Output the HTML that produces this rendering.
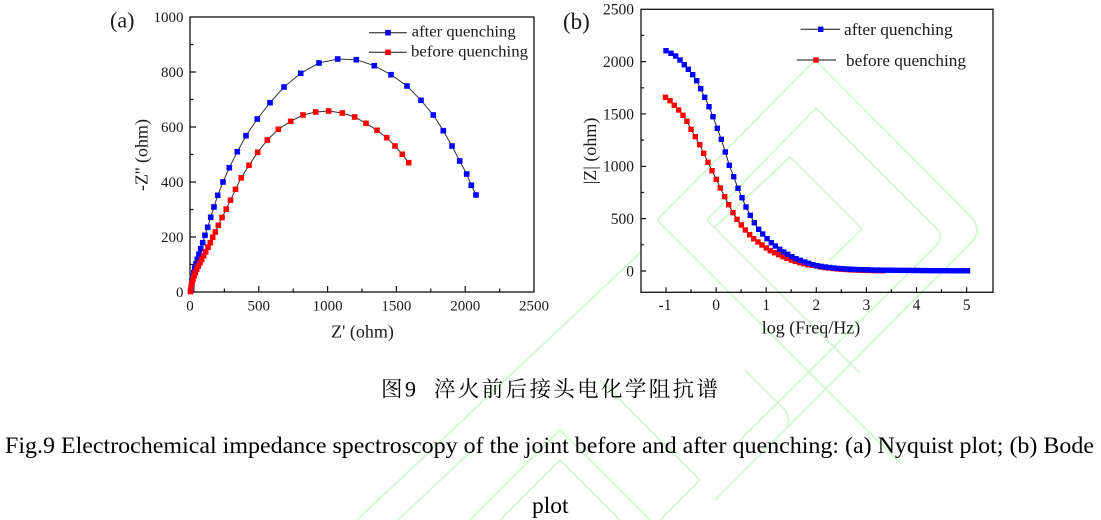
<!DOCTYPE html>
<html>
<head>
<meta charset="utf-8">
<style>
  html,body{margin:0;padding:0;background:#fff;}
  svg{display:block;}
  .t{font-family:"Liberation Serif",serif;fill:#1a1a1a;}
  .c{font-family:"Liberation Serif","Noto Serif CJK SC",serif;fill:#000;}
</style>
</head>
<body>
<svg width="1101" height="520" viewBox="0 0 1101 520" xmlns="http://www.w3.org/2000/svg">
<defs>
  <rect id="mb" x="-2.8" y="-2.8" width="5.6" height="5.6" fill="#0000ff"/>
  <rect id="mr" x="-2.8" y="-2.8" width="5.6" height="5.6" fill="#ff0000"/>
  <rect id="bb" x="-2.7" y="-2.7" width="5.4" height="5.4" fill="#0000ff"/>
  <rect id="br" x="-2.7" y="-2.7" width="5.4" height="5.4" fill="#ff0000"/>
</defs>
<rect width="1101" height="520" fill="#fff"/>

<!-- watermark (approximate) -->
<g fill="none" stroke="#d2f8d2" stroke-width="1.8" stroke-linejoin="round">
  <path d="M357,520 L640,253"/>
  <path d="M398,520 L470,452"/>
  <path d="M657,220 L815,60 L972,218 Q982,230 972,242 L715,500"/>
  <path d="M657,220 L900,463"/>
  <path d="M707,220 L816,108 L938,230 Q944,238 934,248 L740,440"/>
  <path d="M707,220 L860,373"/>
  <path d="M715,227 L790,157 L862,229 L830,260"/>
  <path d="M470,520 L560,430 L650,520"/>
  <path d="M500,520 L560,460 L620,520"/>
  <path d="M745,370 L785,410 Q792,420 785,430 L745,470"/>
  <path d="M600,380 L700,480 L660,520"/>
</g>

<!-- ===== (a) Nyquist ===== -->
<text class="t" x="110" y="27.7" font-size="22">(a)</text>
<path d="M258.8,292v-6M327.6,292v-6M396.4,292v-6M465.2,292v-6M224.4,292v-3.5M293.2,292v-3.5M362,292v-3.5M430.8,292v-3.5M499.6,292v-3.5M190,237h6M190,182h6M190,127h6M190,72h6M190,264.5h3.5M190,209.5h3.5M190,154.5h3.5M190,99.5h3.5M190,44.5h3.5" stroke="#111" stroke-width="1.2" fill="none"/>
<rect x="190" y="17" width="344" height="275" fill="none" stroke="#111" stroke-width="1.3"/>
<g class="t" font-size="15" text-anchor="middle">
  <text x="190" y="310.5">0</text>
  <text x="258.8" y="310.5">500</text>
  <text x="327.6" y="310.5">1000</text>
  <text x="396.4" y="310.5">1500</text>
  <text x="465.2" y="310.5">2000</text>
  <text x="534" y="310.5">2500</text>
</g>
<g class="t" font-size="15" text-anchor="end">
  <text x="183.5" y="297">0</text>
  <text x="183.5" y="242">200</text>
  <text x="183.5" y="187">400</text>
  <text x="183.5" y="132">600</text>
  <text x="183.5" y="77">800</text>
  <text x="183.5" y="22">1000</text>
</g>
<text class="t" x="362.5" y="337.5" font-size="18" text-anchor="middle">Z' (ohm)</text>
<text class="t" transform="translate(147.5,155) rotate(-90)" font-size="18" text-anchor="middle">-Z'' (ohm)</text>

<polyline fill="none" stroke="#333" stroke-width="1" points="190.6,291.3 191.7,289.3 191.7,285 192,280.7 192.7,276.7 193.7,272.7 194.7,268.3 196,264 197.3,259.3 199,254.3 200.7,248.7 202.7,242.7 205,235.3 207.7,227.3 210.7,217.3 214,207 217.7,195.3 223,182 229.3,167.7 237.3,151.7 246,135.7 257.3,119 270,102.7 284,87 300.7,73.3 319,63 337.7,59 356.3,59.7 374.3,65.7 391,74.7 407,86 421,100.3 433.3,115 443.3,130.7 452,146 459.7,161 466.7,174 471.3,185.3 476,195"/>
<g>
<use href="#mb" x="190.6" y="291.3"/><use href="#mb" x="191.7" y="289.3"/><use href="#mb" x="191.7" y="285"/><use href="#mb" x="192" y="280.7"/><use href="#mb" x="192.7" y="276.7"/><use href="#mb" x="193.7" y="272.7"/><use href="#mb" x="194.7" y="268.3"/><use href="#mb" x="196" y="264"/><use href="#mb" x="197.3" y="259.3"/><use href="#mb" x="199" y="254.3"/><use href="#mb" x="200.7" y="248.7"/><use href="#mb" x="202.7" y="242.7"/><use href="#mb" x="205" y="235.3"/><use href="#mb" x="207.7" y="227.3"/><use href="#mb" x="210.7" y="217.3"/><use href="#mb" x="214" y="207"/><use href="#mb" x="217.7" y="195.3"/><use href="#mb" x="223" y="182"/><use href="#mb" x="229.3" y="167.7"/><use href="#mb" x="237.3" y="151.7"/><use href="#mb" x="246" y="135.7"/><use href="#mb" x="257.3" y="119"/><use href="#mb" x="270" y="102.7"/><use href="#mb" x="284" y="87"/><use href="#mb" x="300.7" y="73.3"/><use href="#mb" x="319" y="63"/><use href="#mb" x="337.7" y="59"/><use href="#mb" x="374.3" y="65.7"/><use href="#mb" x="391" y="74.7"/><use href="#mb" x="407" y="86"/><use href="#mb" x="421" y="100.3"/><use href="#mb" x="433.3" y="115"/><use href="#mb" x="443.3" y="130.7"/><use href="#mb" x="452" y="146"/><use href="#mb" x="459.7" y="161"/><use href="#mb" x="466.7" y="174"/><use href="#mb" x="471.3" y="185.3"/><use href="#mb" x="476" y="195"/><use href="#mb" x="356.3" y="59.7"/>
</g>
<polyline fill="none" stroke="#333" stroke-width="1" points="190.5,291.5 191,289 191.3,286 192,282.7 193,279.3 194,276 195.3,272.7 196.7,269.3 198.3,266 200,262.7 201.7,259.3 203.7,255.7 205.7,251.7 208,247.3 210.3,242.7 212.7,237.3 215.3,232 218.3,225.3 222,217.5 226.2,209.2 230.5,200.2 235.5,189.3 241.2,177.8 249,165.3 257.7,152.3 267.3,140 278.3,129.3 290.7,121.3 303,115 315.7,112 328.7,111 342.3,113 354.7,117 366,123.3 377,130.3 386.7,137.7 395,146 402.3,154.3 408.7,162.7"/>
<g>
<use href="#mr" x="190.5" y="291.5"/><use href="#mr" x="191" y="289"/><use href="#mr" x="191.3" y="286"/><use href="#mr" x="192" y="282.7"/><use href="#mr" x="193" y="279.3"/><use href="#mr" x="194" y="276"/><use href="#mr" x="195.3" y="272.7"/><use href="#mr" x="196.7" y="269.3"/><use href="#mr" x="198.3" y="266"/><use href="#mr" x="200" y="262.7"/><use href="#mr" x="201.7" y="259.3"/><use href="#mr" x="203.7" y="255.7"/><use href="#mr" x="205.7" y="251.7"/><use href="#mr" x="208" y="247.3"/><use href="#mr" x="210.3" y="242.7"/><use href="#mr" x="212.7" y="237.3"/><use href="#mr" x="215.3" y="232"/><use href="#mr" x="218.3" y="225.3"/><use href="#mr" x="222" y="217.5"/><use href="#mr" x="226.2" y="209.2"/><use href="#mr" x="230.5" y="200.2"/><use href="#mr" x="235.5" y="189.3"/><use href="#mr" x="241.2" y="177.8"/><use href="#mr" x="249" y="165.3"/><use href="#mr" x="257.7" y="152.3"/><use href="#mr" x="267.3" y="140"/><use href="#mr" x="278.3" y="129.3"/><use href="#mr" x="290.7" y="121.3"/><use href="#mr" x="303" y="115"/><use href="#mr" x="315.7" y="112"/><use href="#mr" x="328.7" y="111"/><use href="#mr" x="342.3" y="113"/><use href="#mr" x="354.7" y="117"/><use href="#mr" x="366" y="123.3"/><use href="#mr" x="377" y="130.3"/><use href="#mr" x="386.7" y="137.7"/><use href="#mr" x="395" y="146"/><use href="#mr" x="402.3" y="154.3"/><use href="#mr" x="408.7" y="162.7"/>
</g>
<path d="M369,32.7H406.7M369,52.3H406.7" stroke="#111" stroke-width="1"/>
<use href="#mb" x="388" y="32.7"/>
<use href="#mr" x="388" y="52.3"/>
<text class="t" x="411.7" y="36.7" font-size="16" textLength="104" lengthAdjust="spacingAndGlyphs">after quenching</text>
<text class="t" x="411" y="56.5" font-size="16" textLength="117" lengthAdjust="spacingAndGlyphs">before quenching</text>

<!-- ===== (b) Bode ===== -->
<text class="t" x="563" y="29" font-size="23">(b)</text>
<path d="M666,292.3v-5M716.1,292.3v-5M766.2,292.3v-5M816.3,292.3v-5M866.4,292.3v-5M916.5,292.3v-5M966.6,292.3v-5M691,292.3v-3M741.1,292.3v-3M791.2,292.3v-3M841.3,292.3v-3M891.4,292.3v-3M941.5,292.3v-3M641,271h5M641,218.65h5M641,166.3h5M641,113.95h5M641,61.6h5M641,244.8h3M641,192.5h3M641,140.1h3M641,87.8h3M641,35.4h3" stroke="#111" stroke-width="1.2" fill="none"/>
<rect x="641" y="9.3" width="352" height="283" fill="none" stroke="#111" stroke-width="1.3"/>
<g class="t" font-size="15.5" text-anchor="end">
  <text x="634" y="276.3">0</text>
  <text x="634" y="224">500</text>
  <text x="634" y="171.6">1000</text>
  <text x="634" y="119.3">1500</text>
  <text x="634" y="66.9">2000</text>
  <text x="634" y="14.6">2500</text>
</g>
<g class="t" font-size="15.5" text-anchor="middle">
  <text x="665" y="310">-1</text>
  <text x="716.1" y="310">0</text>
  <text x="766.2" y="310">1</text>
  <text x="816.3" y="310">2</text>
  <text x="866.4" y="310">3</text>
  <text x="916.5" y="310">4</text>
  <text x="966.6" y="310">5</text>
</g>
<text class="t" x="811" y="333.3" font-size="18" text-anchor="middle">log (Freq/Hz)</text>
<text class="t" transform="translate(596,151) rotate(-90)" font-size="18" text-anchor="middle">|Z| (ohm)</text>

<polyline fill="none" stroke="#222" stroke-width="1" points="665.5,97.3 670,100.7 674.3,105.3 678.7,110 683,115.3 687,121.3 691,129.3 695.3,136.7 699.7,144.7 703.7,153.3 708,162.3 712,170.7 716.3,179.3 720.3,188 724.7,196.7 728.7,204.7 733,212.7 737,219.3 741.3,225 745.3,230 749.7,234.7 753.7,238.7 758,242 762,245 766.3,248 770.3,250.7 774.7,252.7 778.7,254.7 783,256.7 787,258.3 791.3,260 795.3,261.3 799.7,262.7 803.7,263.7 808,264.7 812,265.3 816.3,266 820.5,266.9 824.7,267.5 828.8,268 833,268.5 837.2,268.9 841.4,269.2 845.6,269.5 849.7,269.8 853.9,270 858.1,270.1 862.3,270.3 866.5,270.4 870.6,270.5 900,270.8 967,271"/>
<g>
<use href="#br" x="665.5" y="97.3"/><use href="#br" x="670" y="100.7"/><use href="#br" x="674.3" y="105.3"/><use href="#br" x="678.7" y="110"/><use href="#br" x="683" y="115.3"/><use href="#br" x="687" y="121.3"/><use href="#br" x="691" y="129.3"/><use href="#br" x="695.3" y="136.7"/><use href="#br" x="699.7" y="144.7"/><use href="#br" x="703.7" y="153.3"/><use href="#br" x="708" y="162.3"/><use href="#br" x="712" y="170.7"/><use href="#br" x="716.3" y="179.3"/><use href="#br" x="720.3" y="188"/><use href="#br" x="724.7" y="196.7"/><use href="#br" x="728.7" y="204.7"/><use href="#br" x="733" y="212.7"/><use href="#br" x="737" y="219.3"/><use href="#br" x="741.3" y="225"/><use href="#br" x="745.3" y="230"/><use href="#br" x="749.7" y="234.7"/><use href="#br" x="753.7" y="238.7"/><use href="#br" x="758" y="242"/><use href="#br" x="762" y="245"/><use href="#br" x="766.3" y="248"/><use href="#br" x="770.3" y="250.7"/><use href="#br" x="774.7" y="252.7"/><use href="#br" x="778.7" y="254.7"/><use href="#br" x="783" y="256.7"/><use href="#br" x="787" y="258.3"/><use href="#br" x="791.3" y="260"/><use href="#br" x="795.3" y="261.3"/><use href="#br" x="799.7" y="262.7"/><use href="#br" x="803.7" y="263.7"/><use href="#br" x="808" y="264.7"/><use href="#br" x="812" y="265.3"/><use href="#br" x="816.3" y="266"/><use href="#br" x="820.5" y="266.9"/><use href="#br" x="824.7" y="267.5"/><use href="#br" x="828.8" y="268"/><use href="#br" x="833" y="268.5"/><use href="#br" x="837.2" y="268.9"/><use href="#br" x="841.4" y="269.2"/><use href="#br" x="845.6" y="269.5"/><use href="#br" x="849.7" y="269.8"/><use href="#br" x="853.9" y="270"/><use href="#br" x="858.1" y="270.1"/><use href="#br" x="862.3" y="270.3"/><use href="#br" x="866.5" y="270.4"/><use href="#br" x="870.6" y="270.5"/><use href="#br" x="874.8" y="270.6"/><use href="#br" x="879" y="270.6"/><use href="#br" x="883" y="270.7"/>
</g>
<polyline fill="none" stroke="#222" stroke-width="1" points="666,50.7 671,53.3 675.7,56 680,60 684.3,64.7 688.3,69.3 692.7,74.7 696.7,80.7 700.7,88.7 704.7,97.3 709,106.7 713,116.7 717.3,128.3 721.3,139.3 725.3,152 729.3,165.3 733.7,176.7 738,188.3 742,197.7 746,207 750.3,215.3 754.3,222.7 758.7,229.3 762.7,234 767,238.7 771.3,242.7 775.3,246 779.7,249.3 783.7,252 787.7,254.3 792,256.7 796,258.7 800.3,260.3 804.7,262 808.7,263.3 813,264.7 817,265.7 821.2,266.4 825.4,267 829.5,267.5 833.7,268 837.9,268.4 842.1,268.7 846.3,269 850.4,269.2 854.6,269.4 858.8,269.6 863,269.7 867.2,269.8 871.3,270 875.5,270.1 879.7,270.1 883.9,270.2 888.1,270.2 892.2,270.3 896.4,270.3 900.6,270.4 904.8,270.4 909,270.4 913.1,270.5 917.3,270.5 921.5,270.6 925.7,270.6 929.9,270.7 934,270.7 938.2,270.7 942.4,270.7 946.6,270.7 950.8,270.8 954.9,270.8 959.1,270.8 963.3,270.8 967.5,270.8"/>
<g>
<use href="#bb" x="666" y="50.7"/><use href="#bb" x="671" y="53.3"/><use href="#bb" x="675.7" y="56"/><use href="#bb" x="680" y="60"/><use href="#bb" x="684.3" y="64.7"/><use href="#bb" x="688.3" y="69.3"/><use href="#bb" x="692.7" y="74.7"/><use href="#bb" x="696.7" y="80.7"/><use href="#bb" x="700.7" y="88.7"/><use href="#bb" x="704.7" y="97.3"/><use href="#bb" x="709" y="106.7"/><use href="#bb" x="713" y="116.7"/><use href="#bb" x="717.3" y="128.3"/><use href="#bb" x="721.3" y="139.3"/><use href="#bb" x="725.3" y="152"/><use href="#bb" x="729.3" y="165.3"/><use href="#bb" x="733.7" y="176.7"/><use href="#bb" x="738" y="188.3"/><use href="#bb" x="742" y="197.7"/><use href="#bb" x="746" y="207"/><use href="#bb" x="750.3" y="215.3"/><use href="#bb" x="754.3" y="222.7"/><use href="#bb" x="758.7" y="229.3"/><use href="#bb" x="762.7" y="234"/><use href="#bb" x="767" y="238.7"/><use href="#bb" x="771.3" y="242.7"/><use href="#bb" x="775.3" y="246"/><use href="#bb" x="779.7" y="249.3"/><use href="#bb" x="783.7" y="252"/><use href="#bb" x="787.7" y="254.3"/><use href="#bb" x="792" y="256.7"/><use href="#bb" x="796" y="258.7"/><use href="#bb" x="800.3" y="260.3"/><use href="#bb" x="804.7" y="262"/><use href="#bb" x="808.7" y="263.3"/><use href="#bb" x="813" y="264.7"/><use href="#bb" x="817" y="265.7"/><use href="#bb" x="821.2" y="266.4"/><use href="#bb" x="825.4" y="267"/><use href="#bb" x="829.5" y="267.5"/><use href="#bb" x="833.7" y="268"/><use href="#bb" x="837.9" y="268.4"/><use href="#bb" x="842.1" y="268.7"/><use href="#bb" x="846.3" y="269"/><use href="#bb" x="850.4" y="269.2"/><use href="#bb" x="854.6" y="269.4"/><use href="#bb" x="858.8" y="269.6"/><use href="#bb" x="863" y="269.7"/><use href="#bb" x="867.2" y="269.8"/><use href="#bb" x="871.3" y="270"/><use href="#bb" x="875.5" y="270.1"/><use href="#bb" x="879.7" y="270.1"/><use href="#bb" x="883.9" y="270.2"/><use href="#bb" x="888.1" y="270.2"/><use href="#bb" x="892.2" y="270.3"/><use href="#bb" x="896.4" y="270.3"/><use href="#bb" x="900.6" y="270.4"/><use href="#bb" x="904.8" y="270.4"/><use href="#bb" x="909" y="270.4"/><use href="#bb" x="913.1" y="270.5"/><use href="#bb" x="917.3" y="270.5"/><use href="#bb" x="921.5" y="270.6"/><use href="#bb" x="925.7" y="270.6"/><use href="#bb" x="929.9" y="270.7"/><use href="#bb" x="934" y="270.7"/><use href="#bb" x="938.2" y="270.7"/><use href="#bb" x="942.4" y="270.7"/><use href="#bb" x="946.6" y="270.7"/><use href="#bb" x="950.8" y="270.8"/><use href="#bb" x="954.9" y="270.8"/><use href="#bb" x="959.1" y="270.8"/><use href="#bb" x="963.3" y="270.8"/><use href="#bb" x="967.5" y="270.8"/>
</g>
<path d="M800.7,29.3H840M796.7,60H836" stroke="#111" stroke-width="1"/>
<use href="#bb" x="820.7" y="29.3"/>
<use href="#br" x="816" y="60"/>
<text class="t" x="844" y="35" font-size="16.5" textLength="108.7" lengthAdjust="spacingAndGlyphs">after quenching</text>
<text class="t" x="846" y="66" font-size="16.5" textLength="120" lengthAdjust="spacingAndGlyphs">before quenching</text>

<!-- captions -->
<text class="c" x="381" y="396.5" font-size="21.5">图</text>
<text class="c" x="405" y="396.5" font-size="22">9</text>
<text class="c" x="434" y="396.5" font-size="21.5" textLength="284" lengthAdjust="spacing">淬火前后接头电化学阻抗谱</text>
<text class="c" x="5" y="453" font-size="23.5" textLength="1089" lengthAdjust="spacingAndGlyphs">Fig.9 Electrochemical impedance spectroscopy of the joint before and after quenching: (a) Nyquist plot; (b) Bode</text>
<text class="c" x="532" y="513" font-size="23.5">plot</text>
</svg>
</body>
</html>
